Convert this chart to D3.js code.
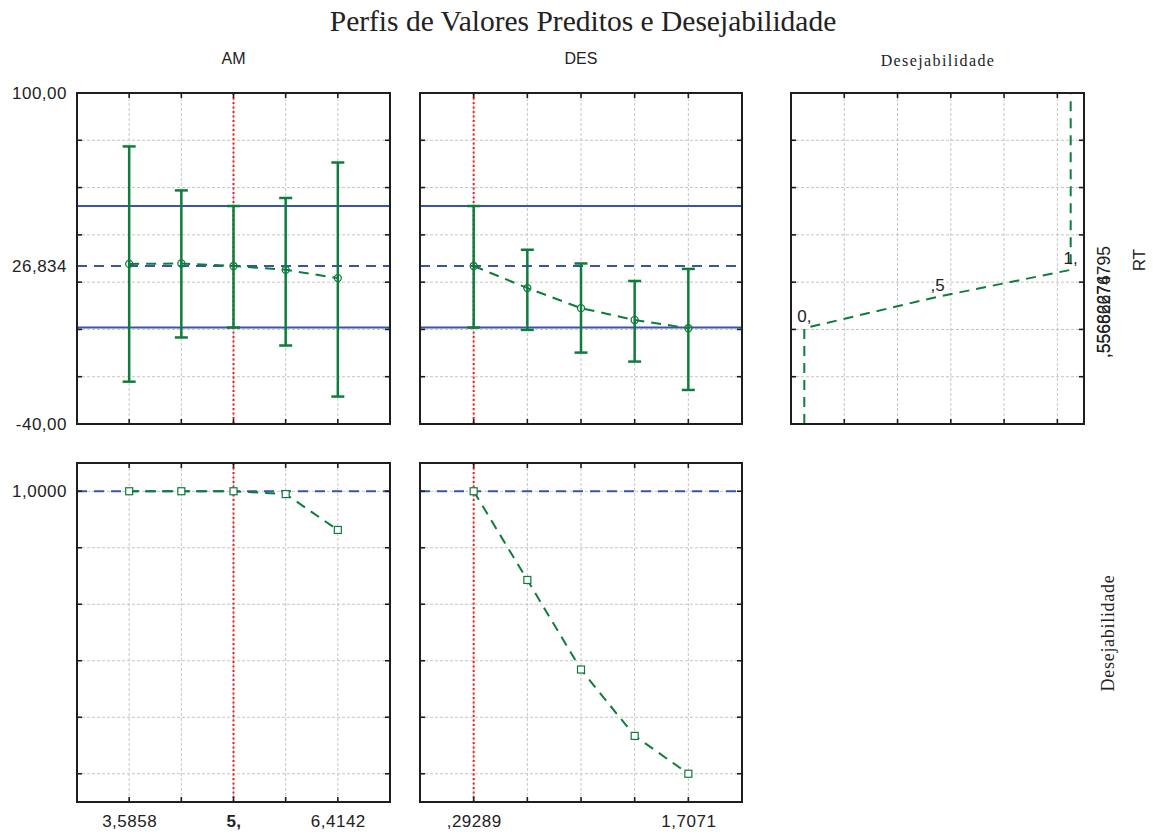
<!DOCTYPE html>
<html>
<head>
<meta charset="utf-8">
<script src="https://cdn.jsdelivr.net/npm/d3@7"></script>
<style>
  html, body { margin: 0; padding: 0; background: #fff; }
  svg { display: block; }
</style>
</head>
<body>
<svg id="chart" width="1153" height="837"></svg>
<script>
// ---------------- DATA ----------------
const amLevels   = [3.5858, 4.2929, 5.0, 5.7071, 6.4142];
const desLevels  = [0.29289, 0.64645, 1.0, 1.35355, 1.70711];

const rtByAM      = [27.7, 27.9, 26.834, 25.2, 21.7];
const rtByAMLow   = [-22.1, -3.4, 0.8, -6.8, -28.4];
const rtByAMHigh  = [77.4, 58.8, 52.2, 55.6, 70.6];

const rtByDES     = [26.834, 17.5, 9.0, 4.0, 0.5];
const rtByDESLow  = [0.8, -0.2, -9.8, -13.6, -25.6];
const rtByDESHigh = [52.2, 33.7, 27.9, 20.5, 25.6];

const desirByAM  = [1.0, 1.0, 1.0, 0.99, 0.863];
const desirByDES = [1.0, 0.686, 0.369, 0.134, 0.0];

const rtCurrent = 26.834;
const rtCILimits = [52.2, 0.8];
const amCurrent = 5.0;
const desCurrent = 0.29289;
const desirCurrent = 1.0;

// desirability function of RT
const desirFuncD  = [0, 0, 0.5, 1, 1];
const desirFuncRT = [-40, 0.5, 13.8, 25.2, 100];
const desirFuncLabelIdx = [1, 2, 3];
const desirFuncLabels = ["0,", ",5", "1,"];

// grid / tick values
const rtGrid = [-20, 0, 20, 40, 60, 80];
const desirGrid = [0, 0.2, 0.4, 0.6, 0.8, 1.0];
const desirFuncGrid = [0.15, 0.35, 0.55, 0.75, 0.95];
const rtTickValues = [100, 26.834, -40];
const rtTickLabels = ["100,00", "26,834", "-40,00"];
const desirTickValues = [1.0];
const desirTickLabels = ["1,0000"];
const amTickValues = [3.5858, 5.0, 6.4142];
const amTickLabels = ["3,5858", "5,", "6,4142"];
const desTickValues = [0.29289, 1.70711];
const desTickLabels = [",29289", "1,7071"];
const rightValueTexts = [",55662676795", ",55686274"];

// ---------------- STYLE ----------------
const GREEN = "#0e7c3c";
const BLUE = "#3a55a8";
const RED = "#ff1a1a";
const GRID = "#c4c4c4";
const FRAME = "#1e1e1e";
const SANS = "'Liberation Sans', Arial, sans-serif";
const SERIF = "'Liberation Serif', 'Times New Roman', serif";

const svg = d3.select("#chart");

// panel boxes
const P = {
  amTop:  {x0: 77,  x1: 390,  y0: 93,  y1: 424},
  desTop: {x0: 420, x1: 742,  y0: 93,  y1: 424},
  dfTop:  {x0: 791, x1: 1084, y0: 93,  y1: 424},
  amBot:  {x0: 77,  x1: 390,  y0: 463, y1: 802},
  desBot: {x0: 420, x1: 742,  y0: 463, y1: 802}
};

const amStep = 0.70711, desStep = 0.35355;
const xAM1 = d3.scaleLinear().domain([amLevels[0] - amStep, amLevels[4] + amStep]).range([P.amTop.x0, P.amTop.x1]);
const xDES1 = d3.scaleLinear().domain([desLevels[0] - desStep, desLevels[4] + desStep]).range([P.desTop.x0, P.desTop.x1]);
const xDF = d3.scaleLinear().domain([-0.05, 1.05]).range([P.dfTop.x0, P.dfTop.x1]);
const yRT = d3.scaleLinear().domain([-40, 100]).range([P.amTop.y1, P.amTop.y0]);
const yD = d3.scaleLinear().domain([-0.1, 1.1]).range([P.amBot.y1, P.amBot.y0]);

function drawPanel(box, xs, ys, xGrid, yGrid) {
  const g = svg.append("g");
  g.selectAll(".vg").data(xGrid).enter().append("line")
    .attr("x1", d => xs(d)).attr("x2", d => xs(d))
    .attr("y1", box.y0).attr("y2", box.y1)
    .attr("stroke", GRID).attr("stroke-width", 1).attr("stroke-dasharray", "3,2");
  g.selectAll(".hg").data(yGrid).enter().append("line")
    .attr("x1", box.x0).attr("x2", box.x1)
    .attr("y1", d => ys(d)).attr("y2", d => ys(d))
    .attr("stroke", GRID).attr("stroke-width", 1).attr("stroke-dasharray", "3,2");
  return g;
}

function drawFrame(box, xs, ys, xGrid, yGrid) {
  const g = svg.append("g");
  const tl = 5;
  xGrid.forEach(d => {
    g.append("line").attr("x1", xs(d)).attr("x2", xs(d)).attr("y1", box.y0).attr("y2", box.y0 + tl)
      .attr("stroke", FRAME).attr("stroke-width", 1.6);
    g.append("line").attr("x1", xs(d)).attr("x2", xs(d)).attr("y1", box.y1).attr("y2", box.y1 - tl)
      .attr("stroke", FRAME).attr("stroke-width", 1.6);
  });
  yGrid.forEach(d => {
    g.append("line").attr("x1", box.x0).attr("x2", box.x0 + tl).attr("y1", ys(d)).attr("y2", ys(d))
      .attr("stroke", FRAME).attr("stroke-width", 1.6);
    g.append("line").attr("x1", box.x1).attr("x2", box.x1 - tl).attr("y1", ys(d)).attr("y2", ys(d))
      .attr("stroke", FRAME).attr("stroke-width", 1.6);
  });
  g.append("rect").attr("x", box.x0).attr("y", box.y0)
    .attr("width", box.x1 - box.x0).attr("height", box.y1 - box.y0)
    .attr("fill", "none").attr("stroke", FRAME).attr("stroke-width", 2);
}

function hLine(box, y, dashed, width) {
  svg.append("line").attr("x1", box.x0).attr("x2", box.x1).attr("y1", y).attr("y2", y)
    .attr("stroke", BLUE).attr("stroke-width", width)
    .attr("stroke-dasharray", dashed ? "10,7" : null);
}

function redLine(box, x) {
  svg.append("line").attr("x1", x).attr("x2", x).attr("y1", box.y0).attr("y2", box.y1)
    .attr("stroke", RED).attr("stroke-width", 2).attr("stroke-dasharray", "2,2.5");
}

function errorBars(xs, levels, mid, lo, hi) {
  const g = svg.append("g");
  const data = levels.map((l, i) => ({x: xs(l), m: yRT(mid[i]), lo: yRT(lo[i]), hi: yRT(hi[i])}));
  g.selectAll(".eb").data(data).enter().append("line")
    .attr("x1", d => d.x).attr("x2", d => d.x).attr("y1", d => d.lo).attr("y2", d => d.hi)
    .attr("stroke", GREEN).attr("stroke-width", 2.5);
  ["lo", "hi"].forEach(k => {
    g.selectAll(".cap" + k).data(data).enter().append("line")
      .attr("x1", d => d.x - 6.5).attr("x2", d => d.x + 6.5).attr("y1", d => d[k]).attr("y2", d => d[k])
      .attr("stroke", GREEN).attr("stroke-width", 2.5);
  });
  const line = d3.line().x(d => d.x).y(d => d.m);
  g.append("path").attr("d", line(data)).attr("fill", "none")
    .attr("stroke", GREEN).attr("stroke-width", 2).attr("stroke-dasharray", "10,7");
  g.selectAll(".pt").data(data).enter().append("circle")
    .attr("cx", d => d.x).attr("cy", d => d.m).attr("r", 3.5)
    .attr("fill", "none").attr("stroke", GREEN).attr("stroke-width", 1.3);
}

function desirLine(xs, levels, vals) {
  const data = levels.map((l, i) => ({x: xs(l), y: yD(vals[i])}));
  const line = d3.line().x(d => d.x).y(d => d.y);
  svg.append("path").attr("d", line(data)).attr("fill", "none")
    .attr("stroke", GREEN).attr("stroke-width", 2).attr("stroke-dasharray", "10,7");
  svg.selectAll(null).data(data).enter().append("rect")
    .attr("x", d => d.x - 3.5).attr("y", d => d.y - 3.5).attr("width", 7).attr("height", 7)
    .attr("fill", "#fff").attr("stroke", GREEN).attr("stroke-width", 1.2);
}

// ---- Top-left: RT vs AM ----
drawPanel(P.amTop, xAM1, yRT, amLevels, rtGrid);
hLine(P.amTop, yRT(rtCILimits[0]), false, 2);
hLine(P.amTop, yRT(rtCILimits[1]), false, 2);
hLine(P.amTop, yRT(rtCurrent), true, 2);
redLine(P.amTop, xAM1(amCurrent));
errorBars(xAM1, amLevels, rtByAM, rtByAMLow, rtByAMHigh);
drawFrame(P.amTop, xAM1, yRT, amLevels, rtGrid);

// ---- Top-middle: RT vs DES ----
drawPanel(P.desTop, xDES1, yRT, desLevels, rtGrid);
hLine(P.desTop, yRT(rtCILimits[0]), false, 2);
hLine(P.desTop, yRT(rtCILimits[1]), false, 2);
hLine(P.desTop, yRT(rtCurrent), true, 2);
redLine(P.desTop, xDES1(desCurrent));
errorBars(xDES1, desLevels, rtByDES, rtByDESLow, rtByDESHigh);
drawFrame(P.desTop, xDES1, yRT, desLevels, rtGrid);

// ---- Top-right: desirability function ----
drawPanel(P.dfTop, xDF, yRT, desirFuncGrid, rtGrid);
{
  const pts = desirFuncD.map((d, i) => [xDF(d), yRT(desirFuncRT[i])]);
  svg.append("path").attr("d", d3.line()(pts)).attr("fill", "none")
    .attr("stroke", GREEN).attr("stroke-width", 2).attr("stroke-dasharray", "10,7");
  svg.selectAll(null).data(desirFuncLabelIdx).enter().append("text")
    .attr("x", i => xDF(desirFuncD[i])).attr("y", i => yRT(desirFuncRT[i]) - 6)
    .attr("text-anchor", "middle").attr("font-family", SANS).attr("font-size", 17)
    .attr("fill", "#222").text((i, k) => desirFuncLabels[k]);
}
drawFrame(P.dfTop, xDF, yRT, desirFuncGrid, rtGrid);

// ---- Bottom-left: desirability vs AM ----
drawPanel(P.amBot, xAM1, yD, amLevels, desirGrid);
hLine(P.amBot, yD(desirCurrent), true, 2);
redLine(P.amBot, xAM1(amCurrent));
desirLine(xAM1, amLevels, desirByAM);
drawFrame(P.amBot, xAM1, yD, amLevels, desirGrid);

// ---- Bottom-middle: desirability vs DES ----
drawPanel(P.desBot, xDES1, yD, desLevels, desirGrid);
hLine(P.desBot, yD(desirCurrent), true, 2);
redLine(P.desBot, xDES1(desCurrent));
desirLine(xDES1, desLevels, desirByDES);
drawFrame(P.desBot, xDES1, yD, desLevels, desirGrid);

// ---------------- AXES (labels) ----------------
function styleAxis(g) {
  g.select(".domain").remove();
  g.selectAll(".tick line").remove();
  g.selectAll("text").attr("font-family", SANS).attr("font-size", 17)
    .attr("fill", "#222").attr("letter-spacing", 0.5);
}
svg.append("g").attr("transform", `translate(${P.amTop.x0},0)`)
  .call(d3.axisLeft(yRT).tickValues(rtTickValues).tickSize(0).tickPadding(10)
    .tickFormat((d, i) => rtTickLabels[i]))
  .call(styleAxis);
svg.append("g").attr("transform", `translate(${P.amBot.x0},0)`)
  .call(d3.axisLeft(yD).tickValues(desirTickValues).tickSize(0).tickPadding(10)
    .tickFormat((d, i) => desirTickLabels[i]))
  .call(styleAxis);
const axAM = svg.append("g").attr("transform", `translate(0,${P.amBot.y1})`)
  .call(d3.axisBottom(xAM1).tickValues(amTickValues).tickSize(0).tickPadding(13)
    .tickFormat((d, i) => amTickLabels[i]))
  .call(styleAxis);
axAM.selectAll("text").filter(d => d === amCurrent).attr("font-weight", "bold");
svg.append("g").attr("transform", `translate(0,${P.desBot.y1})`)
  .call(d3.axisBottom(xDES1).tickValues(desTickValues).tickSize(0).tickPadding(13)
    .tickFormat((d, i) => desTickLabels[i]))
  .call(styleAxis);

// ---------------- TITLES ----------------
svg.append("text").attr("x", 583).attr("y", 31).attr("text-anchor", "middle")
  .attr("font-family", SERIF).attr("font-size", 29.5).attr("fill", "#222")
  .text("Perfis de Valores Preditos e Desejabilidade");
svg.append("text").attr("x", (P.amTop.x0 + P.amTop.x1) / 2).attr("y", 64).attr("text-anchor", "middle")
  .attr("font-family", SANS).attr("font-size", 16).attr("fill", "#222").text("AM");
svg.append("text").attr("x", (P.desTop.x0 + P.desTop.x1) / 2).attr("y", 64).attr("text-anchor", "middle")
  .attr("font-family", SANS).attr("font-size", 16).attr("fill", "#222").text("DES");
svg.append("text").attr("x", 938).attr("y", 66).attr("text-anchor", "middle")
  .attr("font-family", SERIF).attr("font-size", 16).attr("letter-spacing", 1.4).attr("fill", "#222")
  .text("Desejabilidade");

// right-side labels
rightValueTexts.forEach(t => {
  svg.append("text").attr("transform", "translate(1110,358) rotate(-90)")
    .attr("text-anchor", "start").attr("font-family", SANS).attr("font-size", 17.5)
    .attr("fill", "#222").text(t);
});
svg.append("text").attr("transform", "translate(1145,260) rotate(-90)")
  .attr("text-anchor", "middle").attr("font-family", SANS).attr("font-size", 17)
  .attr("fill", "#222").text("RT");
svg.append("text").attr("transform", "translate(1114,633) rotate(-90)")
  .attr("text-anchor", "middle").attr("font-family", SERIF).attr("font-size", 18)
  .attr("letter-spacing", 0.7).attr("fill", "#222").text("Desejabilidade");
</script>
</body>
</html>
